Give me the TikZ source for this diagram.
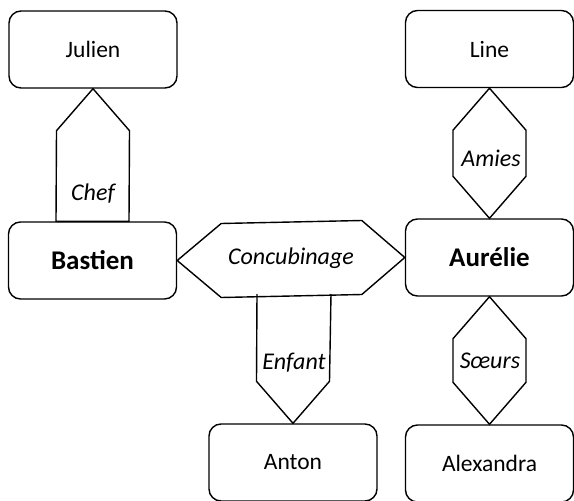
\documentclass[tikz,border=0pt]{standalone}
\usepackage{fontspec}
\setmainfont{Carlito}
\usepackage{tikz}
\usetikzlibrary{calc}

\begin{document}
\begin{tikzpicture}[
  x=1pt, y=-1pt,
  entity/.style={draw=black, line width=1.4pt, rounded corners=12pt, minimum width=168pt, minimum height=77pt, inner sep=0pt, font=\fontsize{23.5}{27}\selectfont},
  keyentity/.style={entity, font=\fontsize{27}{31}\selectfont\bfseries},
  relshape/.style={draw=black, line width=1.4pt, line join=miter},
  rellabel/.style={inner sep=1pt, font=\fontsize{24}{28}\selectfont\itshape},
]
\useasboundingbox (0,0) rectangle (574,501);

\def\hw{36.5} % half width of a relation
\def\sl{42}   % height of the pointed ends

% entities
\node[entity]    (julien)    at (93,49.5)    {Julien};
\node[entity]    (line)      at (489.5,49)   {Line};
\node[keyentity] (bastien)   at (92.5,260.5) {Bastien};
\node[keyentity] (aurelie)   at (489.5,257.5){Aurélie};
\node[entity]    (anton)     at (293,462.5)  {Anton};
\node[entity]    (alexandra) at (489.5,463.5){Alexandra};

% relations
\draw[relshape] (julien.south) -- ++(-\hw,\sl) -- ($(bastien.north)+(-\hw,0)$)
  -- ($(bastien.north)+(\hw,0)$) -- ($(julien.south)+(\hw,\sl)$) -- cycle;
\node[rellabel] (chef) at (93,194) {Chef};

\draw[relshape] (line.south) -- ++(-\hw,\sl) -- ($(aurelie.north)+(-\hw,-\sl)$)
  -- (aurelie.north) -- ($(aurelie.north)+(\hw,-\sl)$) -- ($(line.south)+(\hw,\sl)$) -- cycle;
\node[rellabel] (amies) at (491,158) {Amies};

\draw[relshape] (bastien.east) -- ++(44,-37) -- ($(aurelie.west)+(-43,-37)$)
  -- (aurelie.west) -- ($(aurelie.west)+(-43,37)$) -- ($(bastien.east)+(44,37)$) -- cycle;
\node[rellabel] (concubinage) at (291,258) {Concubinage};

\draw[relshape] (257,294) -- ($(anton.north)+(-\hw,-\sl)$) -- (anton.north)
  -- ($(anton.north)+(\hw,-\sl)$) -- (331,294);
\node[rellabel] (enfant) at (294,363) {Enfant};

\draw[relshape] (aurelie.south) -- ++(-\hw,\sl) -- ($(alexandra.north)+(-\hw,-\sl)$)
  -- (alexandra.north) -- ($(alexandra.north)+(\hw,-\sl)$) -- ($(aurelie.south)+(\hw,\sl)$) -- cycle;
\node[rellabel] (soeurs) at (490,361) {Sœurs};

\end{tikzpicture}
\end{document}
